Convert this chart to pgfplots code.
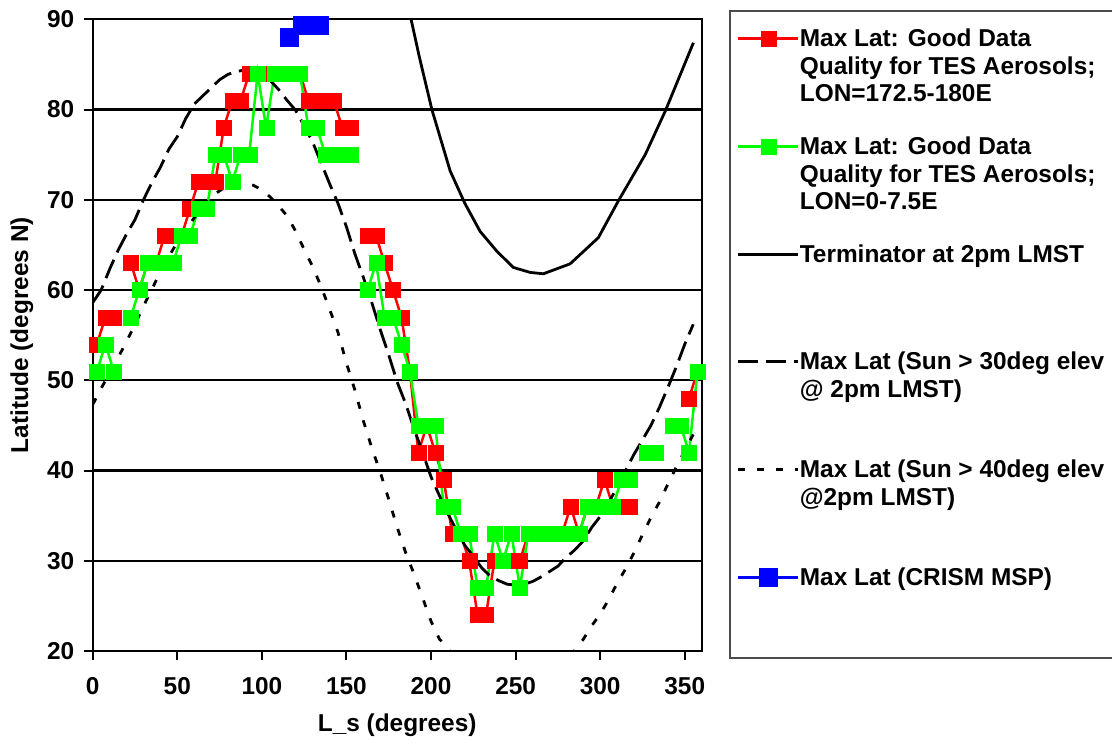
\documentclass[border=0pt]{standalone}
\usepackage{fontspec}
\setmainfont{Liberation Sans}
\usepackage{pgfplots}
\pgfplotsset{compat=1.18}
\definecolor{pred}{RGB}{255,0,0}
\definecolor{pgreen}{RGB}{0,255,0}
\definecolor{pblue}{RGB}{0,0,255}
\newcommand{\bigfont}{\fontsize{24.4}{27.5}\selectfont\bfseries}
\begin{document}
\begin{tikzpicture}[x=1pt,y=1pt]
\useasboundingbox (0,0) rectangle (1112,745);
\begin{axis}[
  at={(92.7pt,94pt)}, anchor=south west,
  scale only axis, width=609pt, height=631.7pt,
  xmin=0, xmax=360, ymin=20, ymax=90,
  xtick={0,50,...,350}, ytick={20,30,...,90},
  tick align=outside, tick pos=left, major tick length=9pt,
  tick style={black, line width=2pt},
  axis line style={black, line width=2.2pt},
  ymajorgrids, grid style={black, line width=2.2pt},
  /pgf/number format/assume math mode=true,
  tick label style={font=\bigfont},
  xticklabel style={yshift=-14pt},
  yticklabel style={xshift=-6pt},
  xlabel={L\_s (degrees)},
  xlabel style={at={(axis description cs:0.5,-0.1171)}, anchor=center, font=\bigfont},
  ylabel={Latitude (degrees N)},
  ylabel style={at={(axis description cs:-0.1161,0.5)}, anchor=center, font=\bigfont},
  unbounded coords=jump,
  legend cell align=left,
  legend style={at={(axis description cs:1.0448,1.0142)}, anchor=north west,
    draw=black!70, line width=1.8pt, inner xsep=7pt, inner ysep=16.5pt,
    row sep=0pt, font=\bigfont, nodes={inner sep=0pt, text depth=},
    cells={anchor=base west},
    /tikz/every even column/.append style={column sep=4pt}},
  legend image post style={line width=3pt},
  legend image code/.code={\draw[mark repeat=2, mark phase=2, #1, line width=3pt] plot coordinates {(0pt,8pt) (30pt,8pt) (60pt,8pt)};},
]
% red series
\addplot[color=pred, line width=2.5pt, mark=square*, mark size=7.5pt, mark options={solid, draw=pred, fill=pred, line width=0.1pt}] coordinates {
(2.5,54) (7.5,57) (12.5,57) (17.5,nan) (22.5,63) (27.5,60) (32.5,63) (37.5,63)
(42.5,66) (47.5,66) (52.5,66) (57.5,69) (62.5,72) (67.5,72) (72.5,72) (77.5,78)
(82.5,81) (87.5,81) (92.5,84) (97.5,84) (102.5,84) (107.5,84) (112.5,84) (117.5,84)
(122.5,84) (127.5,81) (132.5,81) (137.5,81) (142.5,81) (147.5,78) (152.5,78) (157.5,nan)
(162.5,66) (167.5,66) (172.5,63) (177.5,60) (182.5,57) (187.5,51) (192.5,42) (197.5,45)
(202.5,42) (207.5,39) (212.5,33) (217.5,33) (222.5,30) (227.5,24) (232.5,24) (237.5,30)
(242.5,30) (247.5,30) (252.5,30) (257.5,33) (262.5,33) (267.5,33) (272.5,33) (277.5,33)
(282.5,36) (287.5,33) (292.5,36) (297.5,36) (302.5,39) (307.5,36) (312.5,36) (317.5,36)
(322.5,nan) (352.5,48) (357.5,51)
};
\addlegendentry{\parbox[t]{306pt}{\strut Max Lat: Good Data\\\strut Quality for TES Aerosols;\\\strut LON=172.5-180E\rule[-33.3pt]{0pt}{33.3pt}}}
% green series
\addplot[color=pgreen, line width=2.5pt, mark=square*, mark size=7.5pt, mark options={solid, draw=pgreen, fill=pgreen, line width=0.1pt}] coordinates {
(2.5,51) (7.5,54) (12.5,51) (17.5,nan) (22.5,57) (27.5,60) (32.5,63) (37.5,63)
(42.5,63) (47.5,63) (52.5,66) (57.5,66) (62.5,69) (67.5,69) (72.5,75) (77.5,75)
(82.5,72) (87.5,75) (92.5,75) (97.5,84) (102.5,78) (107.5,84) (112.5,84) (117.5,84)
(122.5,84) (127.5,78) (132.5,78) (137.5,75) (142.5,75) (147.5,75) (152.5,75) (157.5,nan)
(162.5,60) (167.5,63) (172.5,57) (177.5,57) (182.5,54) (187.5,51) (192.5,45) (197.5,45)
(202.5,45) (207.5,36) (212.5,36) (217.5,33) (222.5,33) (227.5,27) (232.5,27) (237.5,33)
(242.5,30) (247.5,33) (252.5,27) (257.5,33) (262.5,33) (267.5,33) (272.5,33) (277.5,33)
(282.5,33) (287.5,33) (292.5,36) (297.5,36) (302.5,36) (307.5,36) (312.5,39) (317.5,39)
(322.5,nan) (327.5,42) (332.5,42) (337.5,nan) (342.5,45) (347.5,45) (352.5,42) (357.5,51)
};
\addlegendentry{\parbox[t]{306pt}{\strut Max Lat: Good Data\\\strut Quality for TES Aerosols;\\\strut LON=0-7.5E\rule[-33.3pt]{0pt}{33.3pt}}}
% terminator
\addplot[color=black, line width=2.8pt, no marks] coordinates {
(187.5,90.6) (193,85.9) (200.5,80) (211.3,73.2) (220,69.6) (229,66.5) (238.9,64.3)
(248.7,62.5) (258.6,61.95) (266.4,61.8) (282.2,62.9) (298.9,65.8) (310.8,69.9)
(326.6,75) (338.4,79.8) (355.1,87.4)
};
\addlegendentry{\parbox[t]{306pt}{\strut Terminator at 2pm LMST\rule[-88.55pt]{0pt}{88.55pt}}}
% 30 deg
\addplot[color=black, line width=2.8pt, no marks, dash pattern=on 20pt off 8pt] coordinates {
(0,58.6) (5,60) (10,62.3) (15,64.4) (20,66.2) (25,67.8) (30,70) (35,71.9) (40,73.6)
(45,75.6) (50,77) (55,79) (60,80.6) (65,81.5) (70,82.4) (75,83.3) (80,83.9) (85,84.2)
(90,84.4) (95,84.3) (100,83.8) (105,83.2) (110,82.2) (115,81) (120,79.9) (125,78.2)
(130,76.4) (135,74.1) (140,71.8) (145,69.6) (150,67) (155,64) (160,61.4) (165,58.6)
(170,55.6) (175,52.8) (180,49.8) (185,47.4) (190,44.6) (195,42) (200,39.3) (205,37.2)
(210,35.2) (215,33.4) (220,31.7) (225,30.5) (230,29.2) (235,28.3) (240,27.8) (245,27.4)
(250,27.3) (255,27.4) (260,27.7) (265,28.2) (270,28.8) (275,29.4) (280,30.4) (285,31.2)
(290,32.2) (295,33.7) (300,34.9) (305,36.4) (310,38.2) (315,40) (320,41.8) (325,43.4)
(330,45) (335,47) (340,49.2) (345,51.5) (350,54) (355,56.2)
};
\addlegendentry{\parbox[t]{306pt}{\strut Max Lat (Sun > 30deg elev\\\strut @ 2pm LMST)\rule[-61.05pt]{0pt}{61.05pt}}}
% 40 deg
\addplot[color=black, line width=2.8pt, no marks, dash pattern=on 7pt off 12pt] coordinates {
(0,47.3) (5,49.1) (10,50.8) (15,52.5) (20,54.3) (25,56.2) (30,58.2) (35,60.1) (40,62)
(45,63.7) (50,65.3) (55,66.7) (60,68) (65,69.2) (70,70.3) (75,71) (80,71.6) (85,71.9)
(90,71.8) (95,71.6) (100,71.1) (105,70.3) (110,69.3) (115,68.2) (120,66.5) (125,64.5)
(130,62.6) (135,60.4) (140,57.9) (145,55.3) (150,51.9) (155,48.9) (160,45.5) (165,42.5)
(170,39.8) (175,36.8) (180,33.7) (185,30.9) (190,28.5) (195,25.9) (200,23.3) (205,21.3)
(210,20.4) (215,18.6) (230,14) (245,12.3) (260,13) (272,15.5) (280,18.8) (285,20.1)
(290,21.3) (295,22.8) (300,24.1) (305,25.7) (310,27.5) (315,29.1) (320,30.9) (325,32.9)
(330,34.8) (335,36.5) (340,38.5) (345,40.4) (350,42.2) (355,44)
};
\addlegendentry{\parbox[t]{306pt}{\strut Max Lat (Sun > 40deg elev\\\strut @2pm LMST)\rule[-61.05pt]{0pt}{61.05pt}}}
% CRISM
\addplot[color=pblue, line width=2.5pt, mark=square*, mark size=9pt, mark options={solid, draw=pblue, fill=pblue, line width=0.1pt}] coordinates {
(116,88) (124,89.4) (129,89.4) (134,89.4)
};
\addlegendentry{\parbox[t]{306pt}{\strut Max Lat (CRISM MSP)\rule[-55.7pt]{0pt}{55.7pt}}}
\end{axis}
\end{tikzpicture}
\end{document}
